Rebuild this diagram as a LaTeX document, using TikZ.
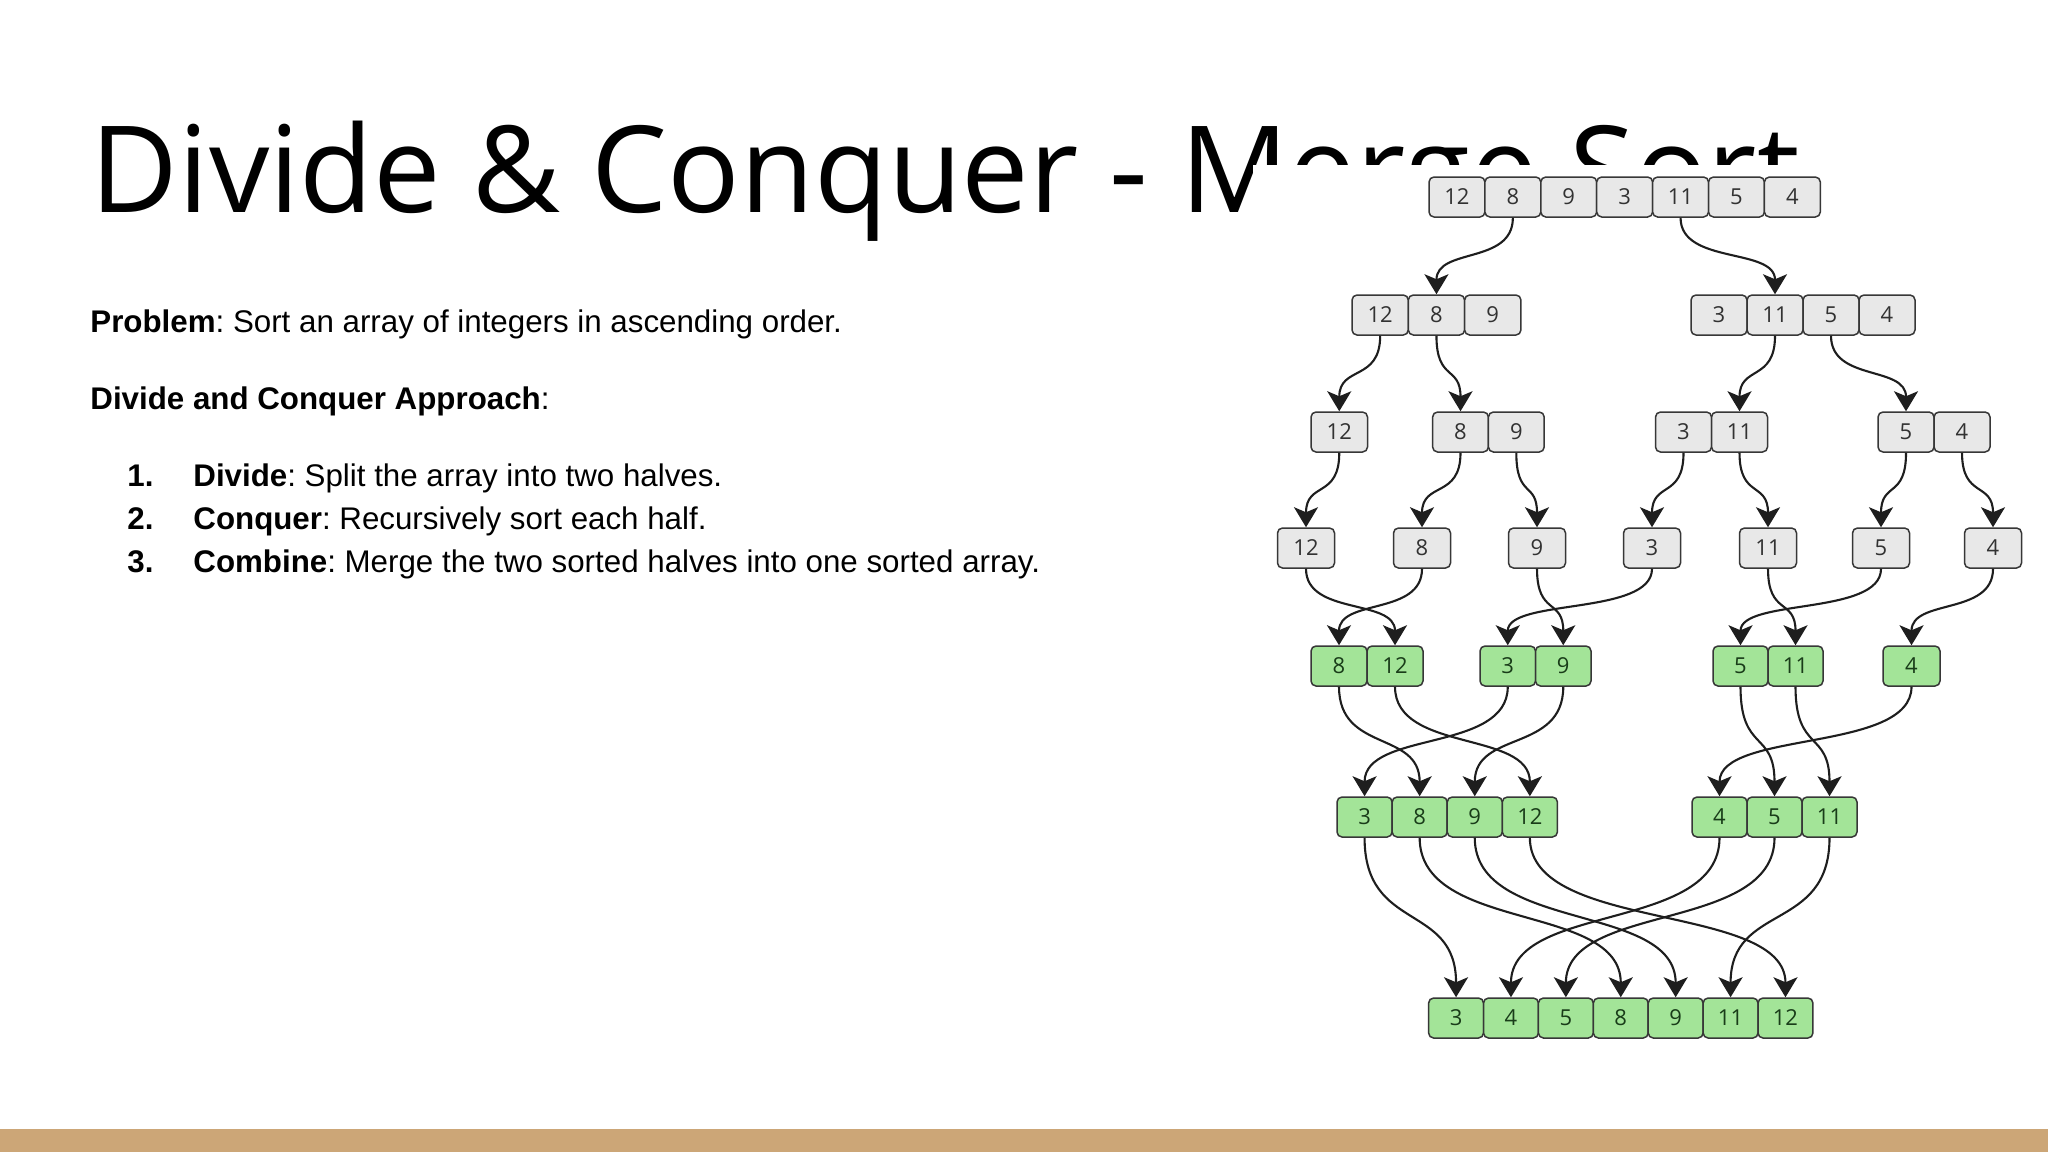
\documentclass[tikz,border=0pt]{standalone}
\usepackage{fontspec}
\setmainfont{Liberation Sans}
\newfontfamily\titlefont{Open Sans}
\newfontfamily\cellfont{Open Sans}
\usetikzlibrary{arrows.meta}
\frenchspacing
\definecolor{bartan}{RGB}{204,166,119}
\definecolor{cellgray}{RGB}{232,232,232}
\definecolor{cellgreen}{RGB}{163,228,152}
\definecolor{edgecol}{RGB}{30,30,30}
\definecolor{bordercol}{RGB}{55,55,55}
\definecolor{graytext}{RGB}{50,50,50}
\definecolor{greentext}{RGB}{25,60,25}
\newcommand\cellrow[6]{\foreach \v [count=\i] in {#5} {\node[#6, minimum width={#4*0.5pt}] (#1\i) at ({#2+#4*(\i-0.5)},#3) {\v};}}
\newcommand\conn[3]{\draw[arr] (#1.south) .. controls +(0,#3) and +(0,-#3) .. (#2.north);}
\begin{document}
\begin{tikzpicture}[x=0.5pt,y=-0.5pt,
  cell/.style={draw=bordercol, line width=0.75pt, rounded corners=2.5pt, minimum height=20pt, inner sep=0pt, font=\cellfont\fontsize{11}{13}\selectfont},
  graycell/.style={cell, fill=cellgray, text=graytext},
  greencell/.style={cell, fill=cellgreen, text=greentext},
  arr/.style={draw=edgecol, line width=1.05pt, -{Stealth[length=10pt,width=12pt,inset=2.5pt]}},
  body/.style={anchor=base west, inner sep=0pt, font=\fontsize{15.65}{18}\selectfont}
  ]
\useasboundingbox (0,0) rectangle (2048,1152);
\fill[white] (0,0) rectangle (2048,1152);
\fill[bartan] (0,1129) rectangle (2048,1152);
% title (partly hidden by the picture's white box)
\node[anchor=base west, inner sep=0pt, font=\titlefont\fontsize{60.2}{61}\selectfont] (title) at (90.5,212) {Divide \& Conquer - Merge Sort};
\fill[white] (1253,165) rectangle (2048,1120);
% body text
\node[body] (prob) at (90,332) {\textbf{Problem}: Sort an array of integers in ascending order.};
\node[body] (appr) at (90,409) {\textbf{Divide and Conquer Approach}:};
\node[body] (n1) at (127,486) {\textbf{1.}};
\node[body] (t1) at (193,486) {\textbf{Divide}: Split the array into two halves.};
\node[body] (n2) at (127,529) {\textbf{2.}};
\node[body] (t2) at (193,529) {\textbf{Conquer}: Recursively sort each half.};
\node[body] (n3) at (127,572) {\textbf{3.}};
\node[body] (t3) at (193,572) {\textbf{Combine}: Merge the two sorted halves into one sorted array.};
% cells
\cellrow{a}{1429}{197}{55.9}{12,8,9,3,11,5,4}{graycell}
\cellrow{b}{1352}{315}{56.3}{12,8,9}{graycell}
\cellrow{c}{1691}{315}{56}{3,11,5,4}{graycell}
\cellrow{d}{1311}{432}{56.5}{12}{graycell}
\cellrow{e}{1432.6}{432}{55.8}{8,9}{graycell}
\cellrow{f}{1655.5}{432}{56}{3,11}{graycell}
\cellrow{g}{1878}{432}{56}{5,4}{graycell}
\foreach \x/\v [count=\i] in {1306/12,1422/8,1537/9,1652/3,1768/11,1881/5,1993/4}
  {\node[graycell, minimum width=28.5pt] (h\i) at (\x,548) {\v};}
\cellrow{i}{1311}{666}{56}{8,12}{greencell}
\cellrow{j}{1480}{666}{55.5}{3,9}{greencell}
\cellrow{k}{1713}{666}{55}{5,11}{greencell}
\cellrow{l}{1883}{666}{57}{4}{greencell}
\cellrow{m}{1337}{817}{55.1}{3,8,9,12}{greencell}
\cellrow{n}{1692}{817}{55}{4,5,11}{greencell}
\cellrow{o}{1428.6}{1018}{54.9}{3,4,5,8,9,11,12}{greencell}
% connectors
\conn{a2}{b2}{47}
\conn{a5}{c2}{47}
\conn{b1}{d1}{46}
\conn{b2}{e1}{46}
\conn{c2}{f2}{46}
\conn{c3}{g1}{46}
\conn{d1}{h1}{46}
\conn{e1}{h2}{46}
\conn{e2}{h3}{46}
\conn{f1}{h4}{46}
\conn{f2}{h5}{46}
\conn{g1}{h6}{46}
\conn{g2}{h7}{46}
\conn{h1}{i2}{47}
\conn{h2}{i1}{47}
\conn{h3}{j2}{47}
\conn{h4}{j1}{47}
\conn{h5}{k2}{47}
\conn{h6}{k1}{47}
\conn{h7}{l1}{47}
\conn{i1}{m2}{66}
\conn{i2}{m4}{66}
\conn{j1}{m1}{66}
\conn{j2}{m3}{66}
\conn{k1}{n2}{66}
\conn{k2}{n3}{66}
\conn{l1}{n1}{66}
\conn{m1}{o1}{95}
\conn{m2}{o4}{95}
\conn{m3}{o5}{95}
\conn{m4}{o7}{95}
\conn{n1}{o2}{95}
\conn{n2}{o3}{95}
\conn{n3}{o6}{95}
\end{tikzpicture}
\end{document}
